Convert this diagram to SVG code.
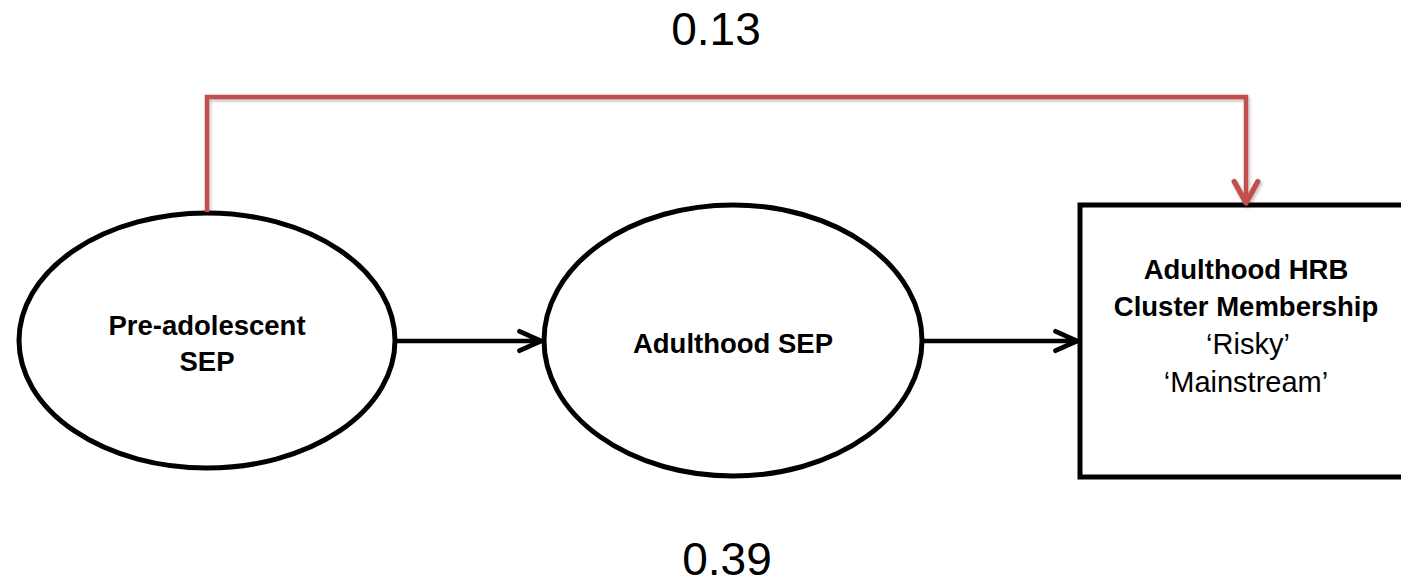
<svg xmlns="http://www.w3.org/2000/svg" width="1401" height="586" viewBox="0 0 1401 586">
  <style>
    .shape { fill: #ffffff; stroke: #000000; stroke-width: 5; }
    .link { fill: none; stroke: #000000; stroke-width: 4.5; }
    .direct { fill: none; stroke: #C0504D; stroke-width: 4.5; }
    .lbl { font-family: "Liberation Sans", Arial, sans-serif; font-weight: bold; font-size: 27.5px; fill: #000000; text-anchor: middle; }
    .sub { font-family: "Liberation Sans", Arial, sans-serif; font-size: 29px; fill: #000000; text-anchor: middle; }
    .coef { font-family: "Liberation Sans", Arial, sans-serif; font-size: 46px; fill: #000000; text-anchor: middle; }
  </style>
  <defs>
    <marker id="arrowBlack" markerUnits="userSpaceOnUse" markerWidth="30" markerHeight="30" viewBox="-24 -12 28 24" refX="0" refY="0" orient="auto">
      <path d="M-20,-9 L0,0 L-20,9" fill="none" stroke="#000000" stroke-width="4.5" stroke-linecap="round" stroke-linejoin="round"/>
    </marker>
    <marker id="arrowRed" markerUnits="userSpaceOnUse" markerWidth="30" markerHeight="30" viewBox="-24 -14 28 28" refX="0" refY="0" orient="auto">
      <path d="M-20,-11 L0,0 L-20,11" fill="none" stroke="#C0504D" stroke-width="5" stroke-linecap="round" stroke-linejoin="round"/>
    </marker>
    <filter id="softShadow" x="-5%" y="-5%" width="110%" height="120%">
      <feDropShadow dx="1.5" dy="2" stdDeviation="1.5" flood-color="#000000" flood-opacity="0.25"/>
    </filter>
  </defs>

  <rect width="1401" height="586" fill="#ffffff"/>

  <!-- path coefficients -->
  <text class="coef" x="716" y="45">0.13</text>
  <text class="coef" x="727" y="575">0.39</text>

  <!-- nodes -->
  <g id="node-preadolescent-sep">
    <ellipse class="shape" cx="207" cy="340.5" rx="188" ry="127.5"/>
    <text class="lbl" x="207" y="335">Pre-adolescent</text>
    <text class="lbl" x="207" y="371">SEP</text>
  </g>

  <g id="node-adulthood-sep">
    <ellipse class="shape" cx="733" cy="340.5" rx="189" ry="135.5"/>
    <text class="lbl" x="733" y="353">Adulthood SEP</text>
  </g>

  <g id="node-hrb-cluster">
    <rect class="shape" x="1080" y="205" width="345" height="272"/>
    <text class="lbl" x="1246" y="279">Adulthood HRB</text>
    <text class="lbl" x="1246" y="316">Cluster Membership</text>
    <text class="sub" x="1248" y="354">‘Risky’</text>
    <text class="sub" x="1246" y="392">‘Mainstream’</text>
  </g>

  <!-- connectors -->
  <g id="connectors">
    <path class="link" d="M397,341 H541" marker-end="url(#arrowBlack)"/>
    <path class="link" d="M924,341 H1077" marker-end="url(#arrowBlack)"/>
    <path class="direct" d="M207,212 V97 H1246 V203" marker-end="url(#arrowRed)" filter="url(#softShadow)"/>
  </g>
</svg>
